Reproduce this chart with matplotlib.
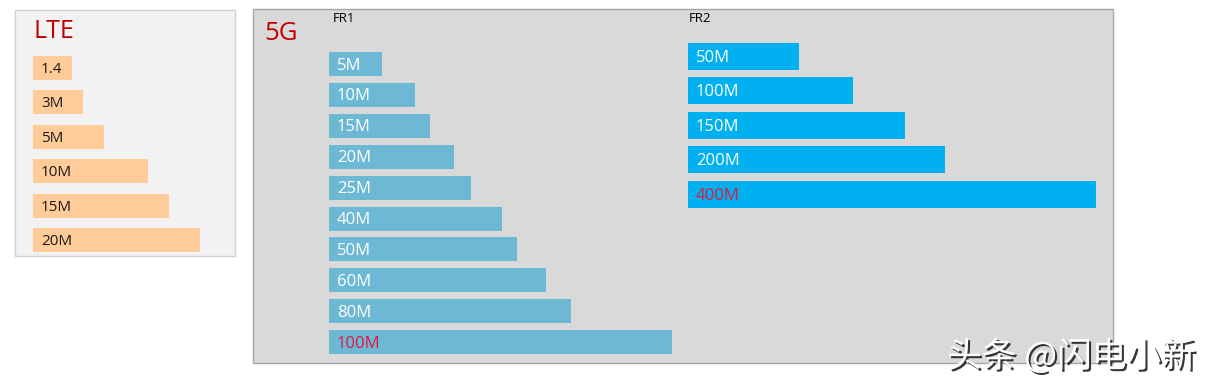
import matplotlib
matplotlib.use('Agg')
import matplotlib.pyplot as plt
import matplotlib.patheffects as pe
from matplotlib.patches import Rectangle
import numpy as np

plt.rcParams['font.family'] = ['Open Sans', 'Noto Sans CJK SC', 'DejaVu Sans']

# LTE channel bandwidths (bar lengths)
lte_labels = ['1.4', '3M', '5M', '10M', '15M', '20M']
lte_lengths = [39, 50, 71, 115, 136, 167]

# 5G FR1
fr1_labels = ['5M', '10M', '15M', '20M', '25M', '40M', '50M', '60M', '80M', '100M']
fr1_lengths = [53, 86, 101, 125, 142, 173, 188, 217, 242, 343]

# 5G FR2
fr2_labels = ['50M', '100M', '150M', '200M', '400M']
fr2_lengths = [111, 165, 217, 257, 408]

fig = plt.figure(figsize=(12.1, 3.88), dpi=100)
ax = fig.add_axes([0, 0, 1, 1])
ax.set_xlim(0, 1210)
ax.set_ylim(388, 0)
ax.axis('off')

# panel backgrounds
ax.add_patch(Rectangle((15, 10), 220, 246, facecolor='#f2f2f2', edgecolor='#d0d0d0', lw=1))
ax.add_patch(Rectangle((253, 9), 860, 354, facecolor='#d9d9d9', edgecolor='#a6a6a6', lw=1))

ax.text(34, 31, 'LTE', color='#c00000', fontsize=18, va='center', ha='left')
ax.text(264, 33, '5G', color='#c00000', fontsize=18.5, va='center', ha='left')
ax.text(333, 19, 'FR1', color='black', fontsize=9.5, va='center', ha='left')
ax.text(689, 18, 'FR2', color='black', fontsize=9.5, va='center', ha='left')


def draw_group(labels, lengths, left, y0, step, h, color, txt_color, fs):
    ys = y0 + step * np.arange(len(labels))
    ax.barh(ys, lengths, left=left, height=h, color=color)
    for i, (lab, y) in enumerate(zip(labels, ys)):
        c = txt_color
        if txt_color == 'white' and i == len(labels) - 1:
            c = '#e3173e'
        ax.text(left + 8, y + 1.5, lab, color=c, fontsize=fs, va='center', ha='left')


draw_group(lte_labels, lte_lengths, 33, 68, 34.4, 24, '#ffcc99', '#1a1a1a', 11)
draw_group(fr1_labels, fr1_lengths, 329, 64, 30.9, 24, '#6db8d4', 'white', 12)
draw_group(fr2_labels, fr2_lengths, 688, 56, 34.6, 27, '#00b0f0', 'white', 12)

# watermark
ax.text(947, 357, '头条 @闪电小新', color='white', fontsize=25, va='center', ha='left',
        family=['Noto Sans CJK SC', 'DejaVu Sans'],
        path_effects=[pe.SimplePatchShadow(offset=(1.5, -1.5), shadow_rgbFace='#222222', alpha=0.9),
                      pe.Normal()])

fig.savefig('out.png', dpi=100)
